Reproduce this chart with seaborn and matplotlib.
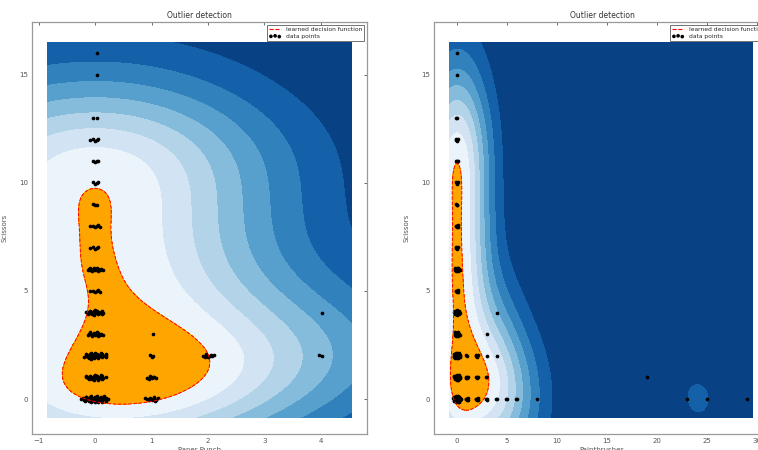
import numpy as np
import matplotlib
matplotlib.use("Agg")
import matplotlib.pyplot as plt
import seaborn as sns
from matplotlib.lines import Line2D

# ---------------- data (counts of rows per value cell) ----------------
y_label = "Scissors"
left_xlabel = "Paper Punch"
right_xlabel = "Paintbrushes"
title_text = "Outlier detection"
legend_labels = ["learned decision function", "data points"]

left_x_vals = [0, 1, 0, 1, 0, 1, 2, 4, 0, 1, 0, 4, 0, 0, 0, 0, 0, 0, 0, 0, 0, 0, 0]
left_y_vals = [0, 0, 1, 1, 2, 2, 2, 2, 3, 3, 4, 4, 5, 6, 7, 8, 9, 10, 11, 12, 13, 15, 16]
left_counts = [40, 12, 25, 8, 30, 3, 9, 2, 15, 1, 20, 1, 6, 15, 5, 6, 3, 4, 4, 5, 2, 1, 1]

right_x_vals = [0, 1, 2, 3, 4, 5, 6, 8, 23, 25, 29,
                0, 1, 2, 3, 19,
                0, 1, 2, 3, 4,
                0, 3,
                0, 4,
                0, 0, 0, 0, 0, 0, 0, 0, 0, 0, 0]
right_y_vals = [0, 0, 0, 0, 0, 0, 0, 0, 0, 0, 0,
                1, 1, 1, 1, 1,
                2, 2, 2, 2, 2,
                3, 3,
                4, 4,
                5, 6, 7, 8, 9, 10, 11, 12, 13, 15, 16]
right_counts = [35, 6, 6, 3, 2, 2, 2, 1, 1, 1, 1,
                25, 5, 4, 2, 1,
                28, 2, 5, 1, 1,
                15, 1,
                20, 1,
                6, 15, 5, 6, 3, 4, 4, 5, 2, 1, 1]

# model settings (one-class SVM with RBF kernel)
GAMMA = 0.1
OUTLIER_FRACTION = 0.25
NU = 0.95 * OUTLIER_FRACTION + 0.05
THRESHOLD_PCT = 15
N_LEVELS = 9

GOLDEN = np.pi * (3 - np.sqrt(5))


def expand(xv, yv, nv, rx, ry):
    """Repeat each cell by its count; spread duplicates (display jitter)."""
    xs, ys = [], []
    for x, y, n in zip(xv, yv, nv):
        k = np.arange(n)
        r = np.sqrt(k + 0.5)
        xs.append(x + rx * r * np.cos(k * GOLDEN))
        ys.append(y + ry * r * np.sin(k * GOLDEN))
    return np.concatenate(xs), np.concatenate(ys)


def project(v, C):
    lo, hi = v.min() - C - 1.0, v.max() + 1.0
    for _ in range(80):
        mid = 0.5 * (lo + hi)
        if np.clip(v - mid, 0, C).sum() > 1.0:
            lo = mid
        else:
            hi = mid
    return np.clip(v - 0.5 * (lo + hi), 0, C)


def ocsvm(px, py, gx, gy, gamma, nu, iters=4000):
    X = np.column_stack([px, py])
    n = len(X)
    K = np.exp(-gamma * ((X[:, None, :] - X[None, :, :]) ** 2).sum(-1))
    C = 1.0 / (nu * n)
    L = np.linalg.eigvalsh(K).max()
    a = np.full(n, 1.0 / n)
    yv = a.copy()
    t = 1.0
    for _ in range(iters):
        a_new = project(yv - (K @ yv) / L, C)
        t_new = 0.5 * (1 + np.sqrt(1 + 4 * t * t))
        yv = a_new + (t - 1) / t_new * (a_new - a)
        a, t = a_new, t_new
    f = K @ a
    free = (a > 1e-4 * C) & (a < C * (1 - 1e-3))
    rho = f[free].mean() if free.any() else np.median(f)
    G = np.column_stack([gx.ravel(), gy.ravel()])
    Z = np.empty(len(G))
    for s in range(0, len(G), 20000):
        d2 = ((G[s:s + 20000, None, :] - X[None, :, :]) ** 2).sum(-1)
        Z[s:s + 20000] = np.exp(-gamma * d2) @ a
    return Z.reshape(gx.shape) - rho, f - rho


sns.set_style("white")
plt.rcParams["font.family"] = ["DejaVu Sans"]

fig = plt.figure(figsize=(7.58, 4.5), dpi=100)
ax_l = fig.add_axes([32 / 758, 16 / 450, 335 / 758, 412 / 450])
ax_r = fig.add_axes([434 / 758, 16 / 450, 336 / 758, 412 / 450])

panels = [
    (ax_l, left_x_vals, left_y_vals, left_counts, left_xlabel, (0.04, 0.026), (-0.85, 4.55),
     (-1.12, 4.82), [-1, 0, 1, 2, 3, 4]),
    (ax_r, right_x_vals, right_y_vals, right_counts, right_xlabel, (0.07, 0.026), (-0.8, 29.6),
     (-2.3, 31.3), [0, 5, 10, 15, 20, 25, 30]),
]

for ax, xv, yv, nv, xlabel, jit, gxr, xlim, xt in panels:
    px, py = expand(xv, yv, nv, *jit)
    gx, gy = np.meshgrid(np.linspace(gxr[0], gxr[1], 260), np.linspace(-0.85, 16.5, 260))
    Z, scores = ocsvm(px, py, gx, gy, GAMMA, NU)
    thr = np.percentile(scores, THRESHOLD_PCT)
    ax.contourf(gx, gy, Z, levels=np.linspace(Z.min(), thr, N_LEVELS), cmap="Blues_r")
    ax.contourf(gx, gy, Z, levels=[thr, Z.max()], colors="orange")
    ax.contour(gx, gy, Z, levels=[thr], colors="red", linewidths=0.7, linestyles="--")
    sns.scatterplot(x=px, y=py, ax=ax, color="black", s=7, linewidth=0, legend=False)
    ax.set_xlim(*xlim)
    ax.set_ylim(-1.62, 17.45)
    ax.set_xticks(xt)
    ax.set_yticks([0, 5, 10, 15])
    ax.tick_params(direction="in", length=2.5, width=0.6, labelsize=5, colors="#555555",
                   top=True, right=True, pad=3)
    for s in ax.spines.values():
        s.set_color("#999999")
        s.set_linewidth(0.9)
    ax.set_title(title_text, fontsize=5.5, color="#333333", pad=3)
    ax.set_xlabel(xlabel, fontsize=5, color="#555555", labelpad=2)
    ax.set_ylabel(y_label, fontsize=5, color="#555555", labelpad=8)
    h_line = Line2D([0], [0], color="red", ls="--", lw=0.8)
    h_pts = ax.collections[-1]
    leg = ax.legend([h_line, h_pts], legend_labels, loc="upper right", fontsize=4.3,
                    scatterpoints=3, frameon=True, fancybox=False, borderaxespad=0.5,
                    handlelength=2, borderpad=0.3, labelspacing=0.3)
    leg.get_frame().set_edgecolor("#333333")
    leg.get_frame().set_linewidth(0.6)

fig.savefig("out.png", dpi=100)
